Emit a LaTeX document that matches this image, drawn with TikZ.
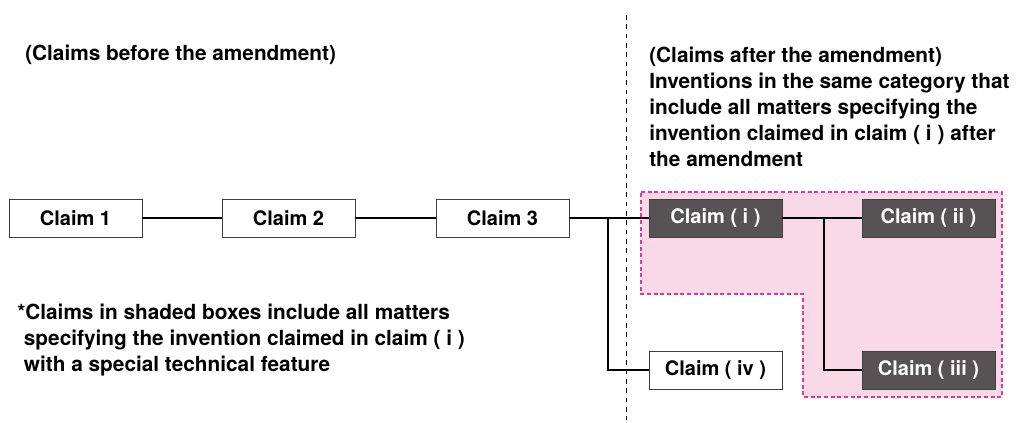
\documentclass[tikz,border=0pt]{standalone}
\usepackage{fontspec}
\setmainfont{TeX Gyre Heros}
\definecolor{claimgray}{HTML}{575354}
\definecolor{shadepink}{HTML}{F9D9E8}
\definecolor{shadeline}{HTML}{E5358C}

\begin{document}
\begin{tikzpicture}
		[x=0.75pt, y=0.75pt,
		every node/.style={inner sep=0pt},
		claim/.style={rectangle,draw=black!75,line width=0.7pt,fill=white,
			minimum width=99.75pt,minimum height=28.5pt,
			font=\bfseries\fontsize{15}{18}\selectfont},
		shaded/.style={claim,fill=claimgray,text=white},
		note/.style={align=left,font=\bfseries\fontsize{15.6}{19.5}\selectfont},
		link/.style={line width=1.1pt}]
		\useasboundingbox (0,0) rectangle (1024,423);
		% region of the shaded claims
		\filldraw [fill=shadepink, draw=shadeline, line width=0.9pt, dash pattern=on 3pt off 2pt]
		(641,231) -- (1002,231) -- (1002,26) -- (803,26) -- (803,129) -- (641,129) -- cycle;
		% before / after divider
		\draw [line width=0.6pt, dash pattern=on 3.5pt off 3.5pt] (626,408) -- (626,3);
		\node (c1) [claim] at (75.5,205) {Claim 1};
		\node (c2) [claim] at (288.5,205) {Claim 2};
		\node (c3) [claim] at (502.5,205) {Claim 3};
		\node (ci) [shaded] at (715.5,205) {Claim ( i )};
		\node (cii) [shaded] at (928.5,205) {Claim ( ii )};
		\node (ciii) [shaded] at (928.5,53) {Claim ( iii )};
		\node (civ) [claim] at (715.5,53) {Claim ( iv )};
		\coordinate (fork1) at (608,205);
		\coordinate (fork2) at (824,205);
		\draw [link] (c1) -- (c2);
		\draw [link] (c2) -- (c3);
		\draw [link] (c3) -- (ci);
		\draw [link] (ci) -- (cii);
		\draw [link] (fork1) |- (civ);
		\draw [link] (fork2) |- (ciii);
		% labels
		\node (before) [note, anchor=base west] at (25,362) {(Claims before the amendment)};
		\node (after) [note, anchor=north west] at (649,376)
		{(Claims after the amendment)\\
			Inventions in the same category that\\
			include all matters specifying the\\
			invention claimed in claim ( i ) after\\
			the amendment};
		\node (remark) [note, anchor=north west] at (17,119)
		{*Claims in shaded boxes include all matters\\
			\hspace{5pt}specifying the invention claimed in claim ( i )\\
			\hspace{5pt}with a special technical feature};
	\end{tikzpicture}
\end{document}
